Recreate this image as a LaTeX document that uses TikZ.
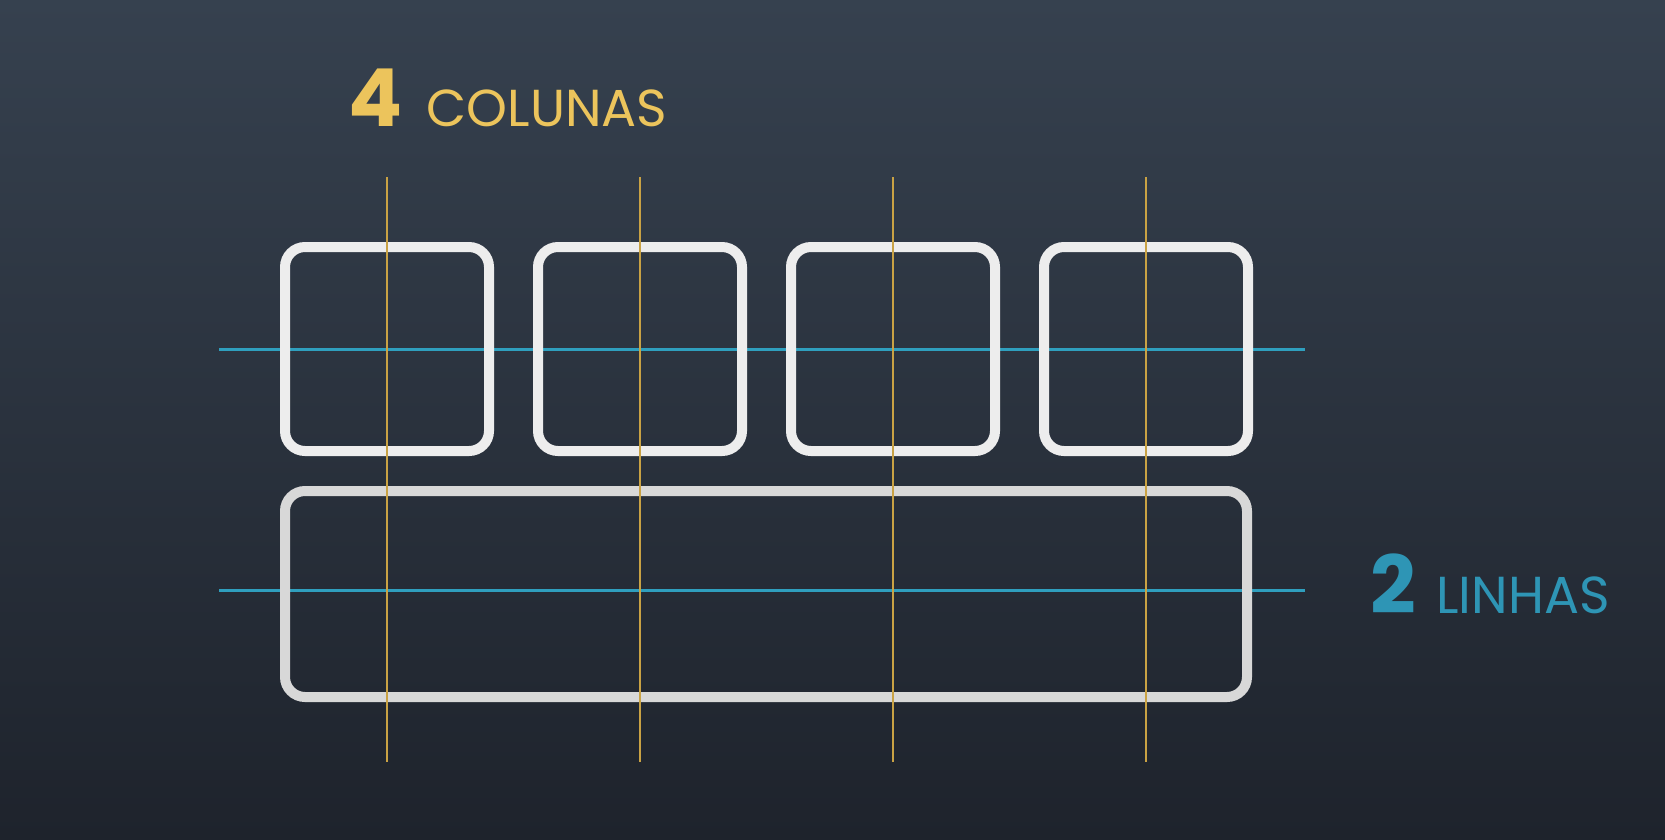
\documentclass[tikz,border=0pt]{standalone}
\usepackage{fontspec}
\setmainfont{Poppins}
\usetikzlibrary{positioning}
\definecolor{bgtop}{HTML}{36414F}
\definecolor{bgbot}{HTML}{1E232C}
\definecolor{headgold}{HTML}{ECC45C}
\definecolor{linegold}{HTML}{C9A244}
\definecolor{headteal}{HTML}{2E95B5}
\definecolor{lineteal}{HTML}{2F9FBE}
\definecolor{boxwhite}{HTML}{EDEDED}
\definecolor{boxgrey}{HTML}{D8D8D8}

\begin{document}
\begin{tikzpicture}[x=1pt, y=-1pt,
  cell/.style={draw=boxwhite, line width=10pt, rounded corners=20pt, minimum width=204pt, minimum height=204pt, inner sep=0pt, outer sep=0pt},
  wide/.style={cell, draw=boxgrey, minimum width=962pt, minimum height=206pt},
  colline/.style={linegold, line width=2.5pt},
  rowline/.style={lineteal, line width=3pt},
  bignum/.style={inner sep=0pt, font=\fontsize{80}{80}\selectfont\bfseries},
  headtext/.style={inner sep=0pt, font=\fontsize{52}{52}\selectfont}
]
  \useasboundingbox (0,0) rectangle (1665,839);
  \fill[top color=bgtop, bottom color=bgbot] (0,0) rectangle (1665,839);

  % guide ends
  \coordinate (top) at (0,177);
  \coordinate (bot) at (0,762);
  \coordinate (left) at (219,0);
  \coordinate (right) at (1305,0);
  \coordinate (row2) at (0,590);

  % rows, under the boxes
  \draw[rowline] (left |- 0,349) -- (right |- 0,349);
  \draw[rowline] (left |- row2) -- (right |- row2);

  \node[cell] (b1) at (387,349) {};
  \node[cell, right=49pt of b1] (b2) {};
  \node[cell, right=49pt of b2] (b3) {};
  \node[cell, right=49pt of b3] (b4) {};
  \node[wide, below right=40pt and 0pt of b1.south west] (span) {};

  % columns, over the boxes
  \draw[colline] (b1.center |- top) -- (b1.center |- bot);
  \draw[colline] (b2.center |- top) -- (b2.center |- bot);
  \draw[colline] (b3.center |- top) -- (b3.center |- bot);
  \draw[colline] (b4.center |- top) -- (b4.center |- bot);

  \node[bignum, text=headgold, anchor=base west] (four) at (348,126) {4};
  \node[headtext, text=headgold, base right=24pt of four] (cols) {COLUNAS};
  \node[bignum, text=headteal, anchor=base west] (two) at (1370,613) {2};
  \node[headtext, text=headteal, base right=20pt of two] (rows) {LINHAS};
\end{tikzpicture}
\end{document}
